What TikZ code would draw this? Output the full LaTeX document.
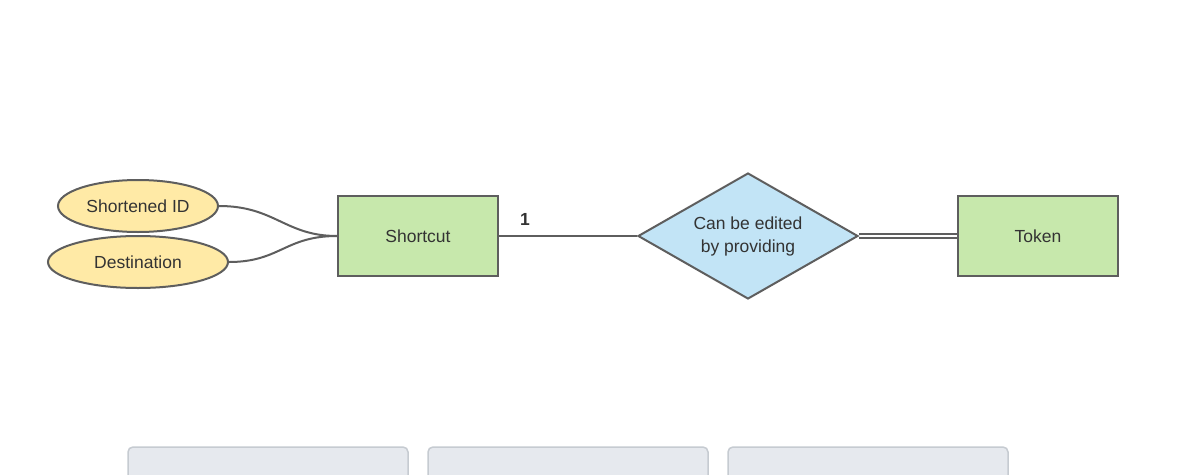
\documentclass[tikz,border=0pt]{standalone}
\usepackage{fontspec}
\setmainfont{Liberation Sans}
\usetikzlibrary{shapes.geometric}
\definecolor{edge}{HTML}{5E5E5E}
\definecolor{ent}{HTML}{C7E8AC}
\definecolor{attr}{HTML}{FFEAA6}
\definecolor{rel}{HTML}{C2E4F6}
\definecolor{txt}{HTML}{333333}
\definecolor{panel}{HTML}{E6E9EE}
\definecolor{panelb}{HTML}{C6CBD1}
\tikzset{
  every node/.style={font=\fontsize{17.5}{21}\selectfont, text=txt},
  entity/.style={draw=edge, line width=2pt, fill=ent, minimum width=160pt, minimum height=80pt, inner sep=0pt},
  attribute/.style={ellipse, draw=edge, line width=2pt, fill=attr, minimum height=52pt, inner sep=0pt},
  relation/.style={diamond, draw=edge, line width=2pt, fill=rel, minimum width=220pt, minimum height=126pt, inner sep=0pt, aspect=1.75, align=center},
  link/.style={draw=edge, line width=2pt},
  panelbox/.style={draw=panelb, fill=panel, line width=1.5pt, rounded corners=5pt}
}
\begin{document}
\begin{tikzpicture}[x=1pt, y=-1pt]
\useasboundingbox[fill=white] (0,0) rectangle (1194,474);
\begin{scope}
\clip (0,0) rectangle (1194,474);
\draw[panelbox] (128,447) rectangle (408,490);
\draw[panelbox] (428,447) rectangle (708,490);
\draw[panelbox] (728,447) rectangle (1008,490);
\end{scope}
\node[attribute, minimum width=160pt] (sid) at (138,206) {Shortened ID};
\node[attribute, minimum width=180pt] (dest) at (138,262) {Destination};
\node[entity] (shortcut) at (418,236) {Shortcut};
\node[entity] (token) at (1038,236) {Token};
\node[relation] (edit) at (748,236) {Can be edited\\[2pt]by providing};
\draw[link] (sid.east) .. controls (275,206) and (285,236) .. (shortcut.west);
\draw[link] (dest.east) .. controls (280,262) and (285,236) .. (shortcut.west);
\draw[link] (shortcut.east) -- (edit.west);
\node[font=\bfseries\fontsize{17.5}{21}\selectfont] (one) at (525,219) {1};
\draw[link, line width=1.8pt] ([yshift=-2pt]edit.east) -- ([yshift=-2pt]token.west);
\draw[link, line width=1.8pt] ([yshift=2pt]edit.east) -- ([yshift=2pt]token.west);
\end{tikzpicture}
\end{document}
